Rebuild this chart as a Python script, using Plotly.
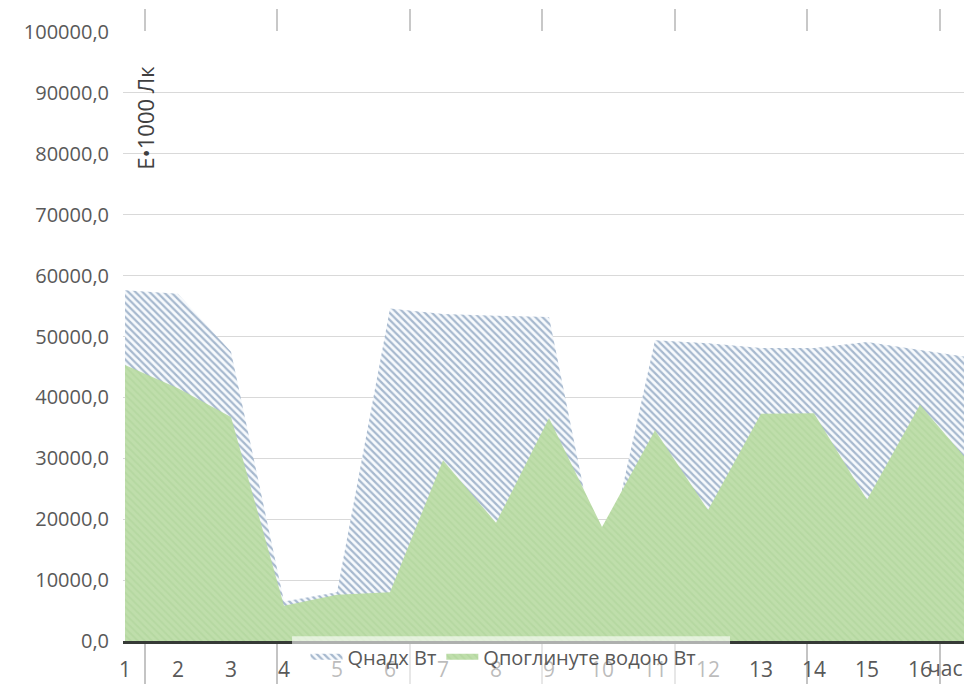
import plotly.graph_objects as go

# ---- data ----
hours = list(range(1, 18))
hour_labels = [str(h) for h in range(1, 17)]
q_nadh = [57600, 57000, 47500, 6500, 8000, 54600, 53700, 53400, 53200, 10000,
          49400, 48900, 48100, 48100, 49100, 47800, 46500]
q_pogl = [45300, 41500, 36800, 5800, 7600, 8000, 29700, 19400, 36600, 18700,
          34600, 21500, 37300, 37400, 23200, 38800, 28600]
y_ticks = [0, 10000, 20000, 30000, 40000, 50000, 60000, 70000, 80000, 90000, 100000]
names = ["Qнадх Вт", "Qпоглинуте водою Вт"]
y_title = "E•1000 Лк"
x_unit = "час"

FONT = "Open Sans"
GREY = "#595959"

fig = go.Figure()
fig.add_trace(go.Scatter(
    x=hours, y=q_nadh, name=names[0], mode="none", fill="tozeroy",
    fillpattern=dict(shape="\\", fgcolor="#56779f", bgcolor="#f7fafd",
                     size=5, solidity=0.45),
))
fig.add_trace(go.Scatter(
    x=hours, y=q_pogl, name=names[1], mode="none", fill="tozeroy",
    fillpattern=dict(shape="\\", fgcolor="#acd297", bgcolor="#bfdeab",
                     size=5, solidity=0.4),
))
# helper trace so the top overlay axis is drawn
fig.add_trace(go.Scatter(x=[], y=[], xaxis="x2", showlegend=False, hoverinfo="skip"))

fig.update_layout(
    width=964, height=684,
    paper_bgcolor="white", plot_bgcolor="white",
    margin=dict(l=123, r=0, t=32, b=43, autoexpand=False),
    separators=", ",
    font=dict(family=FONT, color=GREY),
    showlegend=True,
    legend=dict(orientation="h", x=0.217, xanchor="left", y=0.006, yanchor="top",
                bgcolor="rgba(0,0,0,0)", font=dict(size=20, color=GREY),
                traceorder="normal", itemwidth=32),
    xaxis=dict(
        range=[0.962, 16.83], tickmode="array", tickvals=hours[:16], ticktext=hour_labels,
        showgrid=False, zeroline=False, ticks="", showline=True,
        linecolor="#363a36", linewidth=3, layer="above traces",
        tickfont=dict(size=21, color=GREY), ticklabelstandoff=8,
        minor=dict(tickmode="linear", tick0=1.377, dtick=2.5, ticks="outside",
                   ticklen=43, tickcolor="#c4c4c4", tickwidth=1.5, showgrid=False),
    ),
    xaxis2=dict(
        overlaying="x", side="top", matches="x", showgrid=False, zeroline=False,
        showline=False, showticklabels=False, tickmode="linear", tick0=1.377, dtick=2.5,
        ticks="outside", ticklen=22, tickcolor="#c8c8c8", tickwidth=1.5,
    ),
    yaxis=dict(
        range=[0, 100000], tickmode="array", tickvals=y_ticks, tickformat=".1f",
        showgrid=True, gridcolor="#d9d9d9", gridwidth=1.3, zeroline=False,
        showline=False, ticks="", tickfont=dict(size=20, color=GREY),
        ticklabelstandoff=13,
    ),
    shapes=[
        # translucent legend backdrop that dims the axis line and labels beneath it
        dict(type="rect", xref="paper", yref="paper", x0=0.201, x1=0.7218,
             y0=-0.08, y1=0.008, fillcolor="rgba(255,255,255,0.6)",
             line=dict(width=0), layer="above"),
    ],
    annotations=[
        dict(text=y_title, xref="paper", yref="paper", x=0.026, y=0.859,
             textangle=-90, showarrow=False, xanchor="center", yanchor="middle",
             font=dict(size=22, color="#404040")),
        dict(text=x_unit, xref="paper", yref="paper", x=1.0, y=-0.044,
             showarrow=False, xanchor="right", yanchor="middle",
             font=dict(size=21, color=GREY)),
    ],
)

fig.write_html(
    "out.html",
    config={"displayModeBar": False},
    post_script="document.body.style.margin='0px';document.body.style.overflow='hidden';",
)
